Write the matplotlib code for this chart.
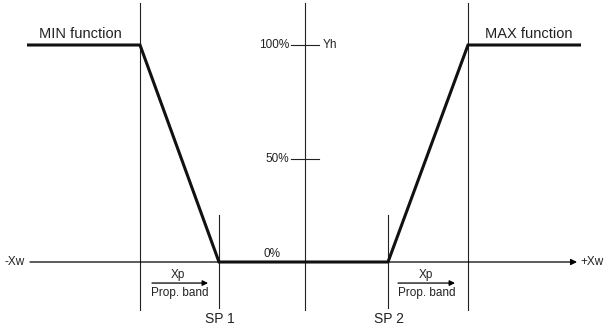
import matplotlib
matplotlib.use("Agg")
import matplotlib.pyplot as plt

plt.rcParams['font.family'] = ['Liberation Sans', 'DejaVu Sans']

# --- data (x in diagram units, y in % output) ---
curve_x = [27, 140, 219, 388, 468, 581]
curve_y = [100, 100, 0, 0, 100, 100]

axis_x = [30, 577]           # horizontal axis extent (-Xw ... +Xw)
band_x = [140, 468]          # proportional band boundaries (tall lines)
center_x = 305               # output axis
sp_x = [219, 388]            # set points
sp_labels = ["SP 1", "SP 2"]
tick_vals = [100, 47.5]
tick_labels = ["100%", "50%"]
xp_arrows = [(152, 208), (398, 455)]

PX = 2.17  # pixels per percent
fig = plt.figure(figsize=(6.06, 3.30), dpi=100)
ax = fig.add_axes([0, 0, 1, 1])
ax.set_xlim(0, 606)
ax.set_ylim((262 - 330) / PX, 262 / PX)
ax.axis('off')

tc = '#222222'
thin = 0.8

# tall vertical lines
for x in band_x + [center_x]:
    ax.plot([x, x], [119.4, -22.1], color='#222222', lw=thin)
# set point lines
for x, lab in zip(sp_x, sp_labels):
    ax.plot([x, x], [21.7, -21.2], color='#222222', lw=thin)
    ax.text(x + 1, -26.3, lab, ha='center', va='center', fontsize=10, color=tc)

# horizontal axis with arrow
ax.annotate('', xy=(axis_x[1], 0), xytext=(axis_x[0], 0),
            arrowprops=dict(arrowstyle='-|>', color='black', lw=0.9,
                            mutation_scale=9, shrinkA=0, shrinkB=0))
ax.text(axis_x[0] - 5, 0, '-Xw', ha='right', va='center', fontsize=8.5, color=tc)
ax.text(axis_x[1] + 3, 0, '+Xw', ha='left', va='center', fontsize=8.5, color=tc)

# output ticks
for v, lab in zip(tick_vals, tick_labels):
    ax.plot([center_x - 14, center_x + 14], [v, v], color='#222222', lw=thin)
    ax.text(center_x - 16, v, lab, ha='right', va='center', fontsize=8.5, color=tc)
ax.text(center_x + 18, 100, 'Yh', ha='left', va='center', fontsize=8.5, color=tc)
ax.text(272, 3.7, '0%', ha='center', va='center', fontsize=8.5, color=tc)

# characteristic curve
ax.plot(curve_x, curve_y, color='#111111', lw=2.2, solid_joinstyle='miter',
        solid_capstyle='butt', zorder=5)
ax.text(80, 105.1, 'MIN function', ha='center', va='center', fontsize=10.5, color=tc)
ax.text(529, 105.1, 'MAX function', ha='center', va='center', fontsize=10.5, color=tc)

# Xp arrows
for x0, x1 in xp_arrows:
    ax.annotate('', xy=(x1, -9.7), xytext=(x0, -9.7),
                arrowprops=dict(arrowstyle='-|>', color='black', lw=0.9,
                                mutation_scale=8, shrinkA=0, shrinkB=0))
    xc = (x0 + x1) / 2
    ax.text(xc - 2 if x0 < 300 else xc - 1, -6.0, 'Xp', ha='center', va='center',
            fontsize=8.5, color=tc)
    ax.text(xc, -14.3, 'Prop. band', ha='center', va='center', fontsize=8.5, color=tc)

fig.savefig('out.png', dpi=100)
